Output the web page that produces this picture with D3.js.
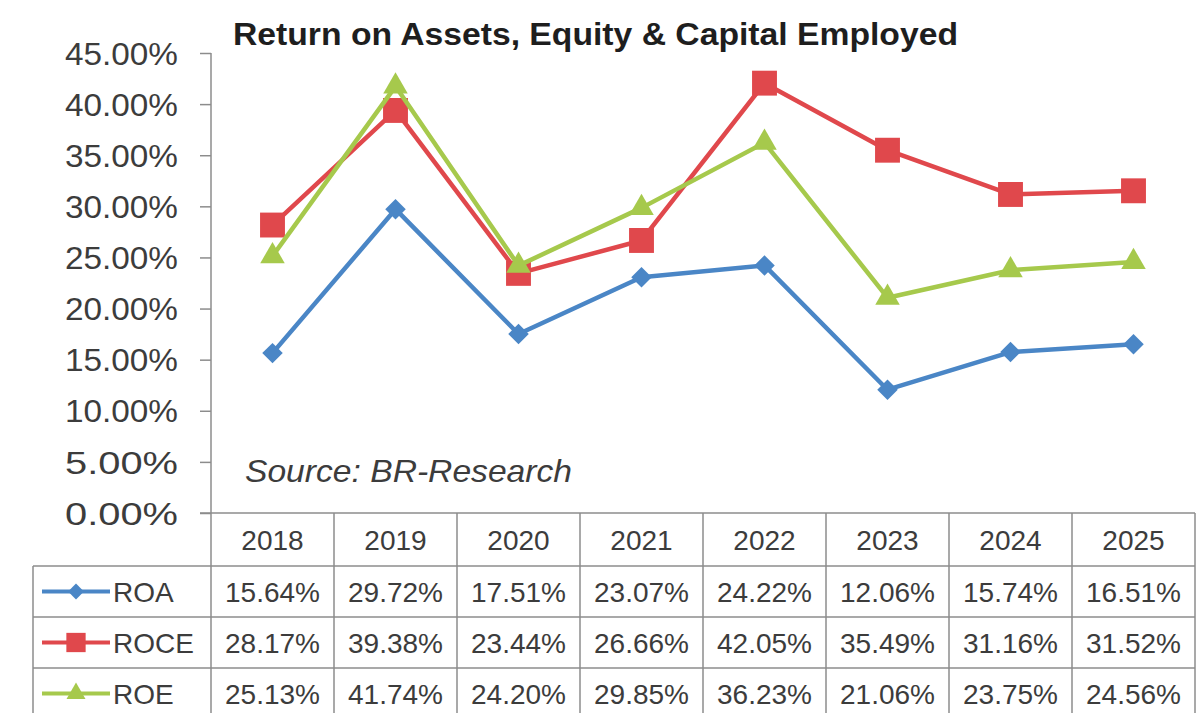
<!DOCTYPE html>
<html>
<head>
<meta charset="utf-8">
<script src="https://cdn.jsdelivr.net/npm/d3@7"></script>
<style>
  body { margin: 0; background: #fff; }
  svg { display: block; }
  text { font-family: "Liberation Sans", Arial, sans-serif; fill: #3c3c3c; }
</style>
</head>
<body>
<div id="chart"></div>
<script>
var years = ["2018", "2019", "2020", "2021", "2022", "2023", "2024", "2025"];
var roa  = [15.64, 29.72, 17.51, 23.07, 24.22, 12.06, 15.74, 16.51];
var roce = [28.17, 39.38, 23.44, 26.66, 42.05, 35.49, 31.16, 31.52];
var roe  = [25.13, 41.74, 24.20, 29.85, 36.23, 21.06, 23.75, 24.56];
var yTicks = [0, 5, 10, 15, 20, 25, 30, 35, 40, 45];

// diamond is a square turned 45 degrees, as Excel draws it
var series = [
    { name: "ROA",  values: roa,  color: "#4a86c6", symbol: d3.symbolSquare,   size: 210, rotate: 45 },
    { name: "ROCE", values: roce, color: "#e0484c", symbol: d3.symbolSquare,   size: 620, rotate: 0 },
    { name: "ROE",  values: roe,  color: "#a6c94c", symbol: d3.symbolTriangle, size: 260, rotate: 0 }
];

var chartW = 1200, chartH = 713;
var plotLeft = 211, plotRight = 1195, plotTop = 53, plotBottom = 513;
var rowH = 51, tableLeft = 33;

var svg = d3.select("#chart").append("svg")
    .attr("width", chartW)
    .attr("height", chartH);

var x = d3.scaleBand().domain(years).range([plotLeft, plotRight]);
var y = d3.scaleLinear().domain([0, 45]).range([plotBottom, plotTop]);
var xc = function(d) { return x(d) + x.bandwidth() / 2; };
var pct = function(d) { return d3.format(".2f")(d) + "%"; };

// title
svg.append("text")
    .attr("x", 233)
    .attr("y", 45)
    .attr("textLength", 725)
    .attr("lengthAdjust", "spacingAndGlyphs")
    .style("font-weight", "bold")
    .style("font-size", "31px")
    .style("fill", "#1e1e1e")
    .text("Return on Assets, Equity & Capital Employed");

// y axis
var yAxis = d3.axisLeft(y)
    .tickValues(yTicks)
    .tickSize(11)
    .tickPadding(22)
    .tickFormat(pct);

var gy = svg.append("g")
    .attr("transform", "translate(" + plotLeft + ",0)")
    .call(yAxis);
gy.select(".domain").attr("stroke", "#8c8c8c").attr("stroke-width", 1.5)
    .attr("d", "M0," + plotTop + "V" + chartH);
gy.selectAll(".tick line").attr("stroke", "#8c8c8c").attr("stroke-width", 1.5);
gy.selectAll(".tick text")
    .style("font-size", "31px")
    .style("fill", "#3c3c3c")
    .attr("textLength", 113)
    .attr("lengthAdjust", "spacingAndGlyphs")
    .attr("dy", "0.36em");

// source note
svg.append("text")
    .attr("x", 245)
    .attr("y", 482)
    .attr("textLength", 327)
    .attr("lengthAdjust", "spacingAndGlyphs")
    .style("font-style", "italic")
    .style("font-size", "32px")
    .style("fill", "#3c3c3c")
    .text("Source: BR-Research");

// lines and markers
var line = d3.line()
    .x(function(d, i) { return xc(years[i]); })
    .y(function(d) { return y(d); });

series.forEach(function(s) {
    var g = svg.append("g").attr("class", "series");
    g.append("path")
        .attr("d", line(s.values))
        .attr("fill", "none")
        .attr("stroke", s.color)
        .attr("stroke-width", 4.5)
        .attr("stroke-linejoin", "round");
    g.selectAll("path.marker")
        .data(s.values)
        .enter().append("path")
        .attr("class", "marker")
        .attr("d", d3.symbol().type(s.symbol).size(s.size))
        .attr("fill", s.color)
        .attr("transform", function(d, i) {
            return "translate(" + xc(years[i]) + "," + y(d) + ") rotate(" + s.rotate + ")";
        });
});

// data table
var grid = svg.append("g").attr("stroke", "#8c8c8c").attr("stroke-width", 1.5);
grid.append("line").attr("x1", plotLeft - 11).attr("x2", plotRight).attr("y1", plotBottom).attr("y2", plotBottom);
x.domain().forEach(function(d) {
    grid.append("line")
        .attr("x1", x(d) + x.bandwidth()).attr("x2", x(d) + x.bandwidth())
        .attr("y1", plotBottom).attr("y2", chartH);
});
series.forEach(function(s, i) {
    var yy = plotBottom + rowH * (i + 1) + 2;
    grid.append("line").attr("x1", tableLeft).attr("x2", plotRight).attr("y1", yy).attr("y2", yy);
});
grid.append("line").attr("x1", tableLeft).attr("x2", tableLeft)
    .attr("y1", plotBottom + rowH + 2).attr("y2", chartH);

svg.selectAll("text.year")
    .data(years)
    .enter().append("text")
    .attr("class", "year")
    .attr("x", xc)
    .attr("y", plotBottom + 37)
    .attr("text-anchor", "middle")
    .style("font-size", "28px")
    .text(function(d) { return d; });

series.forEach(function(s, i) {
    var rowMid = plotBottom + rowH * (i + 1) + 2 + rowH / 2;
    var row = svg.append("g");
    row.append("line")
        .attr("x1", 42).attr("x2", 110)
        .attr("y1", rowMid).attr("y2", rowMid)
        .attr("stroke", s.color).attr("stroke-width", 4);
    row.append("path")
        .attr("d", d3.symbol().type(s.symbol).size(s.size * 0.6))
        .attr("fill", s.color)
        .attr("transform", "translate(76," + rowMid + ") rotate(" + s.rotate + ")");
    row.append("text")
        .attr("x", 113)
        .attr("y", rowMid + 10)
        .style("font-size", "28px")
        .text(s.name);
    row.selectAll("text.val")
        .data(s.values)
        .enter().append("text")
        .attr("class", "val")
        .attr("x", function(d, j) { return xc(years[j]); })
        .attr("y", rowMid + 10)
        .attr("text-anchor", "middle")
        .style("font-size", "28px")
        .text(pct);
});
</script>
</body>
</html>
